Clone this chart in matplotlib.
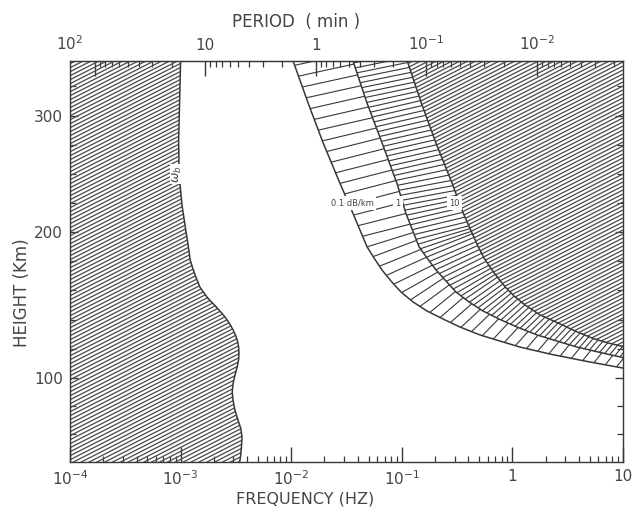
import numpy as np
import matplotlib
matplotlib.use("Agg")
import matplotlib.pyplot as plt
from matplotlib.collections import LineCollection
from matplotlib.patches import Polygon
from matplotlib.ticker import FixedLocator, NullFormatter

plt.rcParams['font.family'] = ['DejaVu Sans']
plt.rcParams['mathtext.fontset'] = 'dejavusans'

INK = '#383838'
TXT = '#454545'

# --- omega_b (Brunt-Vaisala) boundary: height (km) / frequency (Hz) ---
bv_height = [346, 313, 279, 249, 223, 210, 200, 191, 181, 175, 170, 162, 155,
             149, 145, 141, 137, 133, 129, 125, 121, 117, 113, 109, 105, 101,
             96, 90, 84, 78, 72, 64, 58, 51, 45, 40]
bv_freq = [1.0e-3, 9.8e-4, 9.6e-4, 9.7e-4, 1.03e-3, 1.08e-3, 1.12e-3, 1.17e-3,
           1.22e-3, 1.29e-3, 1.36e-3, 1.50e-3, 1.75e-3, 2.08e-3, 2.32e-3,
           2.57e-3, 2.78e-3, 2.98e-3, 3.15e-3, 3.28e-3, 3.35e-3, 3.37e-3,
           3.35e-3, 3.28e-3, 3.18e-3, 3.08e-3, 2.98e-3, 2.93e-3, 2.98e-3,
           3.08e-3, 3.24e-3, 3.50e-3, 3.59e-3, 3.55e-3, 3.50e-3, 3.42e-3]

# --- viscous attenuation contours ---
att01_height = [346, 311, 277, 242, 216, 190, 182.2, 174, 166.4, 158.9, 152.1,
                145.9, 140.4, 134.9, 129.5, 125.3, 121.2, 116.4, 111.6, 106.8]
att01_freq = [0.0104, 0.0142, 0.0194, 0.0276, 0.0362, 0.0484, 0.0561, 0.0662,
              0.0799, 0.0983, 0.1263, 0.169, 0.236, 0.336, 0.509, 0.773, 1.17,
              2.19, 4.53, 10]

att1_height = [346, 311, 277, 242, 216, 190, 182.2, 174, 166.4, 158.9, 152.1,
               145.9, 140.4, 134.9, 129.5, 125.3, 121.2, 116.4, 114.0]
att1_freq = [0.0362, 0.0484, 0.0662, 0.0904, 0.109, 0.143, 0.169, 0.204,
             0.251, 0.309, 0.405, 0.542, 0.757, 1.10, 1.67, 2.53, 3.84, 7.17, 10]

att10_height = [346, 311, 277, 242, 216, 190, 182.2, 175, 168.5, 162, 156.2,
                150, 143.2, 137, 132.2, 127, 124, 121.6]
att10_freq = [0.112, 0.15, 0.203, 0.285, 0.36, 0.49, 0.554, 0.64, 0.741, 0.87,
              1.034, 1.3, 1.78, 2.7, 3.68, 5.4, 7.32, 10]

x_ticks = [1e-4, 1e-3, 1e-2, 1e-1, 1, 10]
x_ticklabels = [r'$10^{-4}$', r'$10^{-3}$', r'$10^{-2}$', r'$10^{-1}$', '1', '10']
period_ticks = [100, 10, 1, 0.1, 0.01]
period_ticklabels = ['', '10', '1', r'$10^{-1}$', r'$10^{-2}$']
y_ticks = [100, 200, 300]
y_minor = [60, 80, 120, 140, 160, 180, 225, 250, 275, 325]

# the height axis is stretched non-linearly
H_KNOTS = [0, 40, 100, 200, 300, 346, 500]
U_KNOTS = [-56, 0, 84, 230, 346, 401, 585]


def h_fwd(h):
    return np.interp(h, H_KNOTS, U_KNOTS)


def h_inv(u):
    return np.interp(u, U_KNOTS, H_KNOTS)


def freq_to_period(f):
    f = np.asarray(f, dtype=float)
    with np.errstate(divide='ignore', invalid='ignore'):
        return 1.0 / (60.0 * f)


fig = plt.figure(figsize=(6.38, 5.08), dpi=100)
ax = fig.add_axes([70 / 638, 46 / 508, 553 / 638, 401 / 508])
ax.set_xscale('log')
ax.set_yscale('function', functions=(h_fwd, h_inv))
ax.set_xlim(1e-4, 10)
ax.set_ylim(40, 346)

for sp in ax.spines.values():
    sp.set_color(INK)
    sp.set_linewidth(1.0)


def hatch_region(verts, spacing=4.0, angle=27, color='#4f4f4f', lw=0.95):
    poly = Polygon(verts, closed=True, facecolor='none', edgecolor='none')
    ax.add_patch(poly)
    bb = ax.get_window_extent()
    w, h = bb.width, bb.height
    tn = np.tan(np.radians(angle))
    offs = np.arange(-w * tn, h + spacing, spacing)
    segs = [[(0, c / h), (1, (c + w * tn) / h)] for c in offs]
    lc = LineCollection(segs, colors=color, linewidths=lw, transform=ax.transAxes)
    ax.add_collection(lc, autolim=False)
    lc.set_clip_path(poly)


def to_px(freq, height):
    return ax.transData.transform(np.column_stack([freq, height]))


def ray_hit(p, d, Q):
    q0, q1 = Q[:-1], Q[1:]
    e = q1 - q0
    w = q0 - p
    den = d[0] * e[:, 1] - d[1] * e[:, 0]
    with np.errstate(divide='ignore', invalid='ignore'):
        s = (w[:, 0] * e[:, 1] - w[:, 1] * e[:, 0]) / den
        r = (w[:, 0] * d[1] - w[:, 1] * d[0]) / den
    ok = (np.abs(den) > 1e-9) & (s > 0) & (r >= 0) & (r <= 1)
    if ok.any():
        return p + s[ok].min() * d
    xr = ax.get_window_extent().x1 + 2
    return p + (xr - p[0]) / d[0] * d


def ladder(inner_f, inner_h, outer_f, outer_h, step, lean=0.6, lw=0.8):
    P = to_px(inner_f, inner_h)
    Q = to_px(outer_f, outer_h)
    seg = np.diff(P, axis=0)
    s = np.concatenate([[0], np.cumsum(np.hypot(seg[:, 0], seg[:, 1]))])
    targets = np.arange(step * 0.4, s[-1], step)
    px = np.interp(targets, s, P[:, 0])
    py = np.interp(targets, s, P[:, 1])
    a = np.clip(targets + 10, 0, s[-1])
    b = np.clip(targets - 10, 0, s[-1])
    tx = np.interp(a, s, P[:, 0]) - np.interp(b, s, P[:, 0])
    ty = np.interp(a, s, P[:, 1]) - np.interp(b, s, P[:, 1])
    segs = []
    inv = ax.transData.inverted()
    for x0, y0, dx, dy in zip(px, py, tx, ty):
        n = np.array([-dy, dx]) / np.hypot(dx, dy)
        d = n + np.array([lean, 0.0])
        d /= np.hypot(*d)
        p = np.array([x0, y0])
        q = ray_hit(p, d, Q)
        segs.append(inv.transform(np.array([p, q])))
    lc = LineCollection(segs, colors=INK, linewidths=lw, zorder=2)
    ax.add_collection(lc, autolim=False)


# shaded regions: below omega_b and beyond the 10 dB/km contour
hatch_region([(1e-4, 40), (1e-4, 346)] + list(zip(bv_freq, bv_height)))
hatch_region(list(zip(att10_freq, att10_height)) + [(10, 346)])

# ladders between the attenuation contours
ladder(att01_freq, att01_height, att1_freq, att1_height, step=11.5)
ladder(att1_freq, att1_height, att10_freq, att10_height, step=5.2)

for f, h in [(bv_freq, bv_height), (att01_freq, att01_height),
             (att1_freq, att1_height), (att10_freq, att10_height)]:
    ax.plot(f, h, color=INK, lw=1.1, zorder=3)

lab_box = dict(facecolor='white', edgecolor='none', pad=1.5)
ax.text(0.0355, 225, '0.1 dB/km', fontsize=6, color=TXT, ha='center',
        va='center', bbox=lab_box, zorder=5)
ax.text(0.092, 225, '1', fontsize=6, color=TXT, ha='center',
        va='center', bbox=lab_box, zorder=5)
ax.text(0.30, 225, '10', fontsize=6, color=TXT, ha='center',
        va='center', bbox=lab_box, zorder=5)
ax.text(9.4e-4, 250, r'$\omega_b$', fontsize=9, color=TXT, ha='center',
        va='center', rotation=90, bbox=dict(facecolor='white', edgecolor='none', pad=0.6),
        zorder=5)

# frequency axis (bottom)
ax.xaxis.set_major_locator(FixedLocator(x_ticks))
ax.set_xticklabels(x_ticklabels)
ax.xaxis.set_minor_formatter(NullFormatter())
ax.tick_params(axis='x', which='major', direction='in', length=11, width=1.0,
               color=INK, labelsize=11, labelcolor=TXT, pad=5, top=False)
ax.tick_params(axis='x', which='minor', direction='in', length=4, width=0.9,
               color=INK, top=False)

# height axis
ax.yaxis.set_major_locator(FixedLocator(y_ticks))
ax.yaxis.set_minor_locator(FixedLocator(y_minor))
ax.yaxis.set_minor_formatter(NullFormatter())
ax.tick_params(axis='y', which='major', direction='in', length=6, width=1.0,
               color=INK, labelsize=11, labelcolor=TXT, pad=5, right=True)
ax.tick_params(axis='y', which='minor', direction='in', length=4, width=0.9,
               color=INK, right=True)

# period axis (top)
TOP_PAD = 6
sec = ax.secondary_xaxis('top', functions=(freq_to_period, freq_to_period))
sec.set_xticks(period_ticks)
sec.set_xticklabels(period_ticklabels)
sec.xaxis.set_minor_formatter(NullFormatter())
sec.tick_params(axis='x', which='major', direction='in', length=11, width=1.0,
                color=INK, labelsize=11, labelcolor=TXT, pad=TOP_PAD)
sec.tick_params(axis='x', which='minor', direction='in', length=4, width=0.9,
                color=INK)
sec.spines['top'].set_color(INK)
# the 10^2 min label sits at the left corner of the frame
fig.text(70 / 638, (508 - 61 + TOP_PAD * 100 / 72) / 508, r'$10^{2}$',
         ha='center', va='bottom', fontsize=11, color=TXT)

fig.text(296 / 638, 1 - 22 / 508, 'PERIOD  ( min )', ha='center', va='center',
         fontsize=12, color=TXT)
fig.text(305 / 638, 1 - 499 / 508, 'FREQUENCY (HZ)', ha='center', va='center',
         fontsize=11.5, color=TXT)
fig.text(22 / 638, 1 - 293 / 508, 'HEIGHT (Km)', ha='center', va='center',
         rotation=90, fontsize=12, color=TXT)

fig.savefig('out.png', dpi=100, facecolor='white')
